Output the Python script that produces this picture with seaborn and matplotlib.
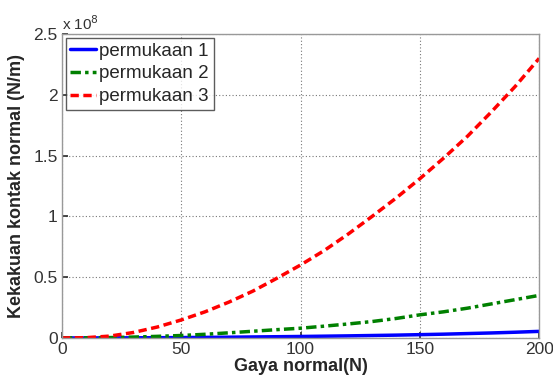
import numpy as np
import pandas as pd
import matplotlib
matplotlib.use("Agg")
import matplotlib.pyplot as plt
import seaborn as sns

# Normal force (N)
gaya = [0, 10, 20, 30, 40, 50, 60, 70, 80, 90, 100,
        110, 120, 130, 140, 150, 160, 170, 180, 190, 200]

# Normal contact stiffness (x 1e8 N/m)
permukaan_1 = [0, 0.0001, 0.0004, 0.001, 0.0018, 0.003, 0.0045, 0.006, 0.008, 0.010, 0.012,
               0.0145, 0.017, 0.020, 0.023, 0.027, 0.031, 0.036, 0.041, 0.047, 0.054]
permukaan_2 = [0, 0.001, 0.003, 0.007, 0.013, 0.020, 0.030, 0.042, 0.055, 0.068, 0.080,
               0.097, 0.115, 0.135, 0.160, 0.190, 0.215, 0.245, 0.280, 0.315, 0.350]
permukaan_3 = [0, 0.002, 0.015, 0.045, 0.090, 0.148, 0.215, 0.295, 0.385, 0.490, 0.600,
               0.720, 0.855, 1.000, 1.150, 1.310, 1.480, 1.660, 1.860, 2.070, 2.300]

labels = ["permukaan 1", "permukaan 2", "permukaan 3"]
colors = ["#0000ff", "#008000", "#ff0000"]
dashes = [None, (3.0, 1.2, 1.0, 1.2), (2.4, 1.3)]

sns.set_theme(style="ticks")
plt.rcParams["font.family"] = ["Liberation Sans", "DejaVu Sans"]

fig = plt.figure(figsize=(5.53, 3.78), dpi=100)
ax = fig.add_axes([0.112, 0.106, 0.863, 0.804])

for lab, vals, c, d in zip(labels, [permukaan_1, permukaan_2, permukaan_3], colors, dashes):
    df = pd.DataFrame({"x": gaya, "y": np.array(vals) * 1e8})
    sns.lineplot(data=df, x="x", y="y", ax=ax, color=c, linewidth=2.5, label=lab)
    l = ax.get_lines()[-1]
    if d is not None:
        l.set_dashes(d)

ax.set_xlim(0, 200)
ax.set_ylim(0, 2.5e8)
ax.set_xticks([0, 50, 100, 150, 200])
ax.set_yticks([0, 0.5e8, 1e8, 1.5e8, 2e8, 2.5e8])
ax.set_yticklabels(["0", "0.5", "1", "1.5", "2", "2.5"])
ax.text(0.0, 1.005, r"x 10$^8$", transform=ax.transAxes, fontsize=11, color="#333333",
        ha="left", va="bottom")

ax.grid(True, linestyle=(0, (1, 2)), color="#777777", linewidth=0.8)
ax.tick_params(direction="in", length=4, labelsize=12.5, colors="#333333", pad=3)
for s in ax.spines.values():
    s.set_color("#999999")
    s.set_linewidth(1.0)

ax.set_xlabel("Gaya normal(N)", fontsize=13, fontweight="bold", labelpad=1)
ax.set_ylabel("Kekakuan kontak normal (N/m)", fontsize=13, fontweight="bold", labelpad=6)

leg = ax.legend(loc="upper left", fontsize=13.5, frameon=True, fancybox=False,
                borderaxespad=0.2, handlelength=1.35, handletextpad=0.2,
                labelspacing=0.3, borderpad=0.25)
leg.get_frame().set_edgecolor("#333333")
leg.get_frame().set_linewidth(1.0)

fig.savefig("out.png", dpi=100)
